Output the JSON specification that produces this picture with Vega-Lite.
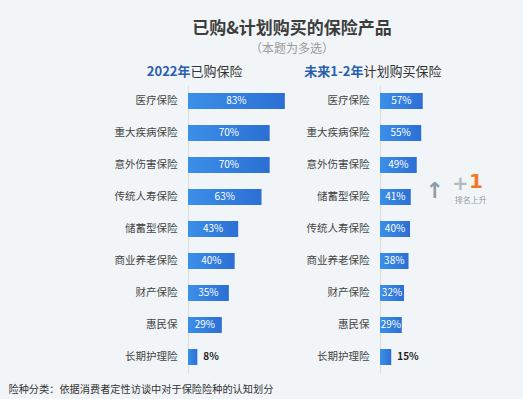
{
  "$schema": "https://vega.github.io/schema/vega-lite/v6.json",
  "description": "已购与计划购买的保险产品对比条形图",
  "background": "#f1f5f8",
  "padding": {"left": 8, "top": 20, "right": 15, "bottom": 4},
  "config": {
    "font": "Noto Sans CJK SC",
    "view": {"stroke": null}
  },
  "title": {
    "text": "已购&计划购买的保险产品",
    "subtitle": "（本题为多选）",
    "anchor": "start",
    "align": "center",
    "dx": 284,
    "fontSize": 17,
    "fontWeight": "bold",
    "color": "#3d3d3d",
    "subtitleFontSize": 12,
    "subtitleColor": "#9b9b9b",
    "subtitlePadding": 6,
    "offset": 9
  },
  "spacing": 10,
  "resolve": {"scale": {"x": "independent", "y": "independent"}},
  "hconcat": [
    {
      "width": 105,
      "height": 288,
      "data": {
        "values": [
          {"险种": "医疗保险", "占比": 0.83},
          {"险种": "重大疾病保险", "占比": 0.70},
          {"险种": "意外伤害保险", "占比": 0.70},
          {"险种": "传统人寿保险", "占比": 0.63},
          {"险种": "储蓄型保险", "占比": 0.43},
          {"险种": "商业养老保险", "占比": 0.40},
          {"险种": "财产保险", "占比": 0.35},
          {"险种": "惠民保", "占比": 0.29},
          {"险种": "长期护理险", "占比": 0.08}
        ]
      },
      "resolve": {"scale": {"x": "independent"}},
      "layer": [
        {
          "mark": {
            "type": "bar",
            "size": 16,
            "color": {
              "gradient": "linear", "x1": 0, "x2": 1, "y1": 0, "y2": 0,
              "stops": [
                {"offset": 0, "color": "#3b8fe9"},
                {"offset": 1, "color": "#2c6fd4"}
              ]
            }
          },
          "encoding": {
            "y": {
              "field": "险种", "type": "nominal", "sort": null,
              "scale": {"paddingInner": 0.5, "paddingOuter": 0.25},
              "axis": {
                "title": "已购保险", "titleAngle": 0, "titleX": 2, "titleY": -10,
                "titleAlign": "left", "titleBaseline": "alphabetic",
                "titleFontSize": 13, "titleFontWeight": "normal", "titleColor": "#333333",
                "labelFontSize": 10.5, "labelColor": "#444444", "labelPadding": 11,
                "ticks": false, "domainColor": "#dddddd"
              }
            },
            "x": {
              "field": "占比", "type": "quantitative",
              "scale": {"domain": [0, 0.9]},
              "axis": {
                "orient": "top", "labels": false, "ticks": false, "domain": false, "grid": false,
                "title": "2022年", "titleX": 2, "titleY": -10,
                "titleAlign": "right", "titleBaseline": "alphabetic",
                "titleFontSize": 13, "titleFontWeight": "bold", "titleColor": "#2a5fae"
              }
            }
          }
        },
        {
          "transform": [{"filter": "datum['占比'] >= 0.2"}],
          "mark": {"type": "text", "color": "white", "fontSize": 10},
          "encoding": {
            "y": {"field": "险种", "type": "nominal", "sort": null},
            "x": {
              "field": "占比", "type": "quantitative",
              "scale": {"domain": [0, 1.8]},
              "axis": {
                "orient": "bottom", "labels": false, "ticks": false, "domain": false, "grid": false,
                "title": "险种分类：依据消费者定性访谈中对于保险险种的认知划分",
                "titleX": -180, "titleY": 16, "titleAlign": "left", "titleBaseline": "middle",
                "titleFontSize": 10.2, "titleFontWeight": "normal", "titleColor": "#333333"
              }
            },
            "text": {"field": "占比", "type": "quantitative", "format": ".0%"}
          }
        },
        {
          "transform": [{"filter": "datum['占比'] < 0.2"}],
          "mark": {"type": "text", "align": "left", "dx": 6, "color": "#222222", "fontSize": 10, "fontWeight": "bold"},
          "encoding": {
            "y": {"field": "险种", "type": "nominal", "sort": null},
            "x": {"field": "占比", "type": "quantitative", "scale": {"domain": [0, 0.9]}, "axis": null},
            "text": {"field": "占比", "type": "quantitative", "format": ".0%"}
          }
        }
      ]
    },
    {
      "width": 127.5,
      "height": 288,
      "data": {
        "values": [
          {"险种": "医疗保险", "占比": 0.57},
          {"险种": "重大疾病保险", "占比": 0.55},
          {"险种": "意外伤害保险", "占比": 0.49},
          {"险种": "储蓄型保险", "占比": 0.41},
          {"险种": "传统人寿保险", "占比": 0.40},
          {"险种": "商业养老保险", "占比": 0.38},
          {"险种": "财产保险", "占比": 0.32},
          {"险种": "惠民保", "占比": 0.29},
          {"险种": "长期护理险", "占比": 0.15}
        ]
      },
      "resolve": {"scale": {"x": "independent"}},
      "layer": [
        {
          "mark": {
            "type": "bar",
            "size": 16,
            "color": {
              "gradient": "linear", "x1": 0, "x2": 1, "y1": 0, "y2": 0,
              "stops": [
                {"offset": 0, "color": "#3b8fe9"},
                {"offset": 1, "color": "#2c6fd4"}
              ]
            }
          },
          "encoding": {
            "y": {
              "field": "险种", "type": "nominal", "sort": null,
              "scale": {"paddingInner": 0.5, "paddingOuter": 0.25},
              "axis": {
                "title": "计划购买保险", "titleAngle": 0, "titleX": -17, "titleY": -10,
                "titleAlign": "left", "titleBaseline": "alphabetic",
                "titleFontSize": 13, "titleFontWeight": "normal", "titleColor": "#333333",
                "labelFontSize": 10.5, "labelColor": "#444444", "labelPadding": 11,
                "ticks": false, "domainColor": "#dddddd"
              }
            },
            "x": {
              "field": "占比", "type": "quantitative",
              "scale": {"domain": [0, 1.7]},
              "axis": {
                "orient": "top", "labels": false, "ticks": false, "domain": false, "grid": false,
                "title": "未来1-2年", "titleX": -17, "titleY": -10,
                "titleAlign": "right", "titleBaseline": "alphabetic",
                "titleFontSize": 13, "titleFontWeight": "bold", "titleColor": "#2a5fae"
              }
            }
          }
        },
        {
          "transform": [{"filter": "datum['占比'] >= 0.2"}],
          "mark": {"type": "text", "color": "white", "fontSize": 10},
          "encoding": {
            "y": {"field": "险种", "type": "nominal", "sort": null},
            "x": {"field": "占比", "type": "quantitative", "scale": {"domain": [0, 3.4]}, "axis": null},
            "text": {"field": "占比", "type": "quantitative", "format": ".0%"}
          }
        },
        {
          "transform": [{"filter": "datum['占比'] < 0.2"}],
          "mark": {"type": "text", "align": "left", "dx": 6, "color": "#222222", "fontSize": 10, "fontWeight": "bold"},
          "encoding": {
            "y": {"field": "险种", "type": "nominal", "sort": null},
            "x": {"field": "占比", "type": "quantitative", "scale": {"domain": [0, 1.7]}, "axis": null},
            "text": {"field": "占比", "type": "quantitative", "format": ".0%"}
          }
        },
        {
          "data": {"values": [{"险种": "储蓄型保险", "注": "↑"}]},
          "mark": {"type": "text", "color": "#8f9ba6", "fontSize": 22, "fontWeight": "bold", "font": "DejaVu Sans", "dy": -6},
          "encoding": {
            "y": {"field": "险种", "type": "nominal", "sort": null},
            "x": {"datum": 0.73, "type": "quantitative", "scale": {"domain": [0, 1.7]}, "axis": null},
            "text": {"field": "注"}
          }
        },
        {
          "data": {"values": [{"险种": "储蓄型保险", "注": "+"}]},
          "mark": {"type": "text", "color": "#b3bcc4", "fontSize": 20, "fontWeight": "bold", "font": "DejaVu Sans", "dy": -13},
          "encoding": {
            "y": {"field": "险种", "type": "nominal", "sort": null},
            "x": {"datum": 1.07, "type": "quantitative", "scale": {"domain": [0, 1.7]}, "axis": null},
            "text": {"field": "注"}
          }
        },
        {
          "data": {"values": [{"险种": "储蓄型保险", "注": "1"}]},
          "mark": {"type": "text", "color": "#f07a2a", "fontSize": 20, "fontWeight": "bold", "font": "DejaVu Sans", "dy": -15},
          "encoding": {
            "y": {"field": "险种", "type": "nominal", "sort": null},
            "x": {"datum": 1.28, "type": "quantitative", "scale": {"domain": [0, 1.7]}, "axis": null},
            "text": {"field": "注"}
          }
        },
        {
          "data": {"values": [{"险种": "储蓄型保险", "注": "排名上升"}]},
          "mark": {"type": "text", "color": "#8f9ba6", "fontSize": 8, "dy": 4},
          "encoding": {
            "y": {"field": "险种", "type": "nominal", "sort": null},
            "x": {"datum": 1.21, "type": "quantitative", "scale": {"domain": [0, 1.7]}, "axis": null},
            "text": {"field": "注"}
          }
        }
      ]
    }
  ]
}
